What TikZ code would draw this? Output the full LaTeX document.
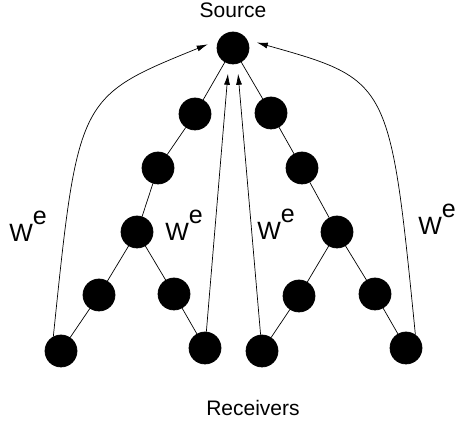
\documentclass[tikz,border=0pt]{standalone}
\usepackage{fontspec}
\setmainfont{Liberation Sans}
\usetikzlibrary{positioning,arrows.meta}

\tikzset{
  vertex/.style={circle, fill=black, draw=black, minimum size=32pt, inner sep=0pt},
  feedback/.style={-{Latex[length=11pt,width=6pt]}, line width=0.7pt},
  tag/.style={font=\fontsize{25}{25}\selectfont, inner sep=0pt, anchor=base west},
  caption/.style={font=\fontsize{21}{21}\selectfont, inner sep=0pt, anchor=base},
}
\newcommand{\weight}{W\raisebox{17pt}{e}}

\begin{document}
\begin{tikzpicture}[x=1pt, y=-1pt, line width=0.7pt, on grid]
  \useasboundingbox (0,0) rectangle (461,427);
  % Define nodes
  \node[vertex] (src) at (233,48) {};
  \node[vertex, below left=66pt and 38pt of src]  (l1) {};
  \node[vertex, below left=54pt and 37pt of l1]   (l2) {};
  \node[vertex, below left=64pt and 21pt of l2]   (l3) {};
  \node[vertex, below left=63pt and 38pt of l3]   (l4) {};
  \node[vertex, below right=62pt and 37pt of l3]  (l5) {};
  \node[vertex, below left=56pt and 38pt of l4]   (rx1) {};
  \node[vertex, below right=54pt and 31pt of l5]  (rx2) {};
  \node[vertex, below right=65pt and 38pt of src] (r1) {};
  \node[vertex, below right=55pt and 31pt of r1]  (r2) {};
  \node[vertex, below right=64pt and 35pt of r2]  (r3) {};
  \node[vertex, below left=64pt and 38pt of r3]   (r4) {};
  \node[vertex, below right=62pt and 38pt of r3]  (r5) {};
  \node[vertex, below left=55pt and 37pt of r4]   (rx3) {};
  \node[vertex, below right=54pt and 31pt of r5]  (rx4) {};
  % Texts
  \node[caption] (srctext) at (233,18) {Source};
  \node[caption] (rxtext) at (253,416) {Receivers};
  \node[tag] (w1) at (9,242) {\weight};
  \node[tag] (w2) at (165,241) {\weight};
  \node[tag] (w3) at (257,240) {\weight};
  \node[tag] (w4) at (418,235) {\weight};
  % Tree
  \draw (src) -- (l1) -- (l2) -- (l3) -- (l4) -- (rx1);
  \draw (l3) -- (l5) -- (rx2);
  \draw (src) -- (r1) -- (r2) -- (r3) -- (r4) -- (rx3);
  \draw (r3) -- (r5) -- (rx4);
  % Feedback to the source
  \draw[feedback, shorten >=12pt] (rx1.118) .. controls (78,97) and (78,97) .. (src.150);
  \draw[feedback, shorten >=10pt] (rx4.55) .. controls (390,80) and (390,80) .. (src.30);
  \draw[feedback, shorten >=10pt] (rx2) -- (src.255);
  \draw[feedback, shorten >=10pt] (rx3) -- (src.285);
\end{tikzpicture}
\end{document}
